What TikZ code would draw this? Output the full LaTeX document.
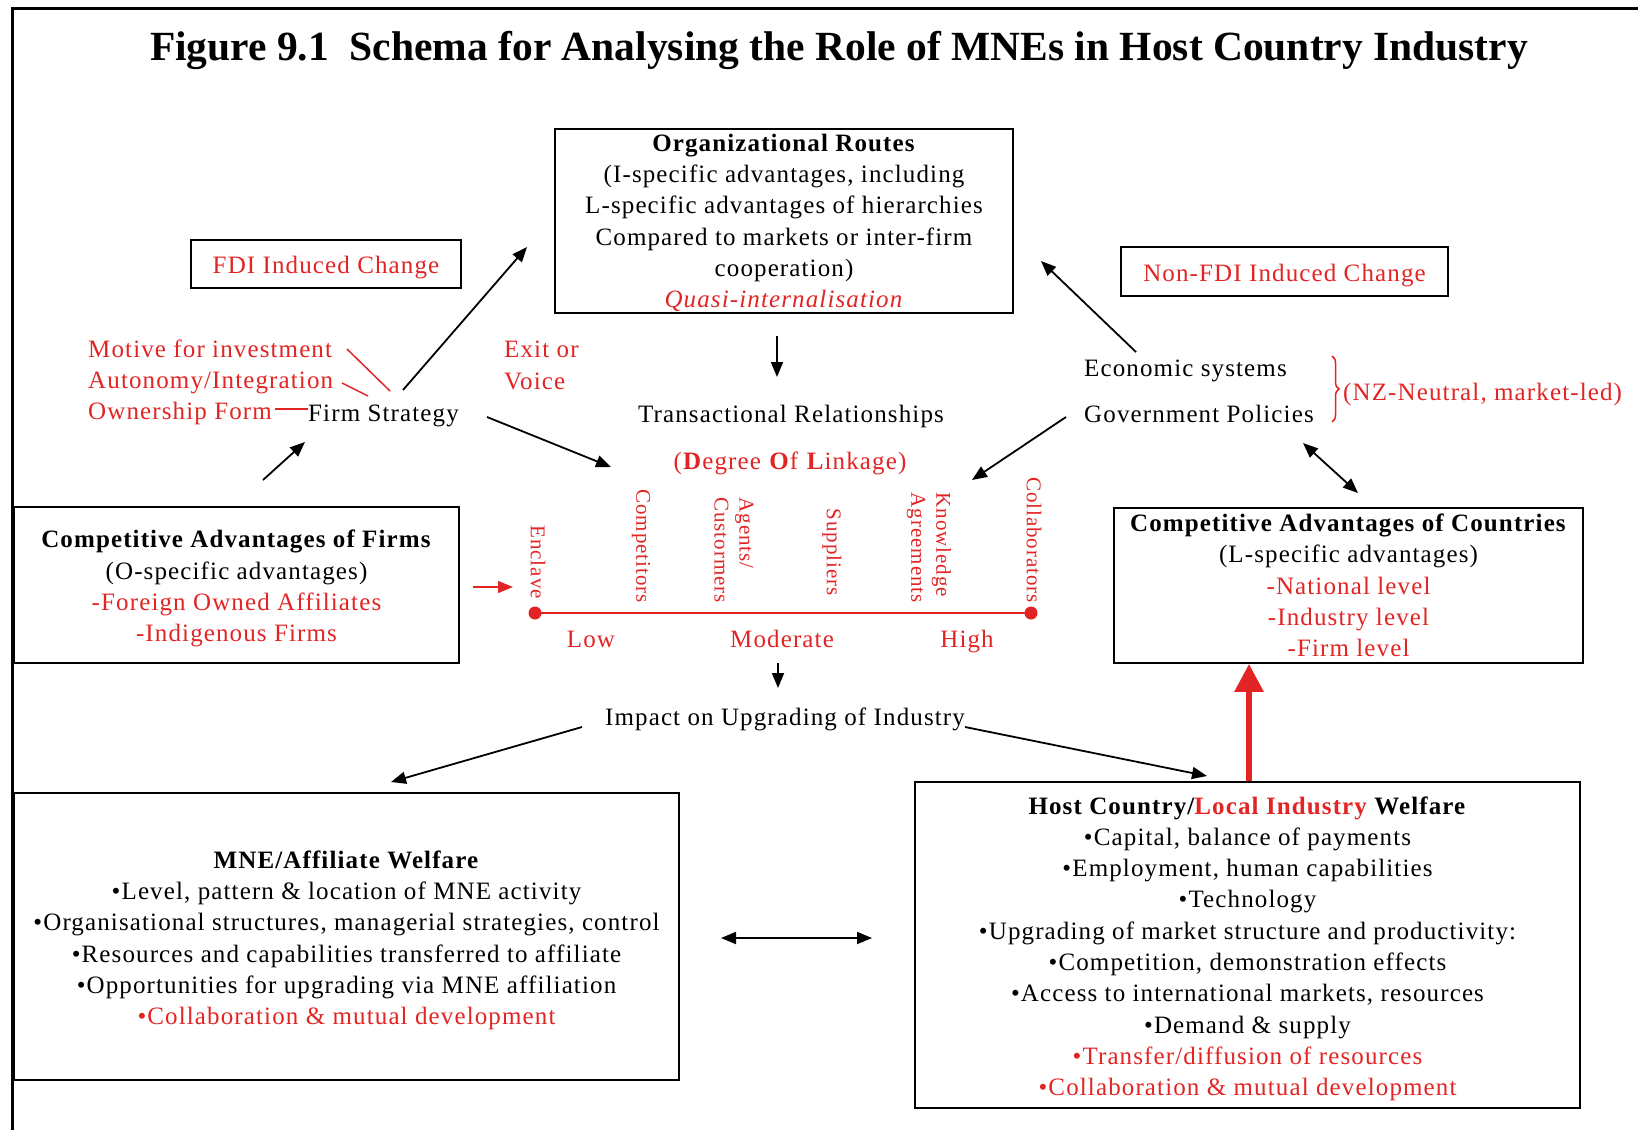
\documentclass[tikz,border=0pt]{standalone}
\usepackage{fontspec}
\setmainfont{Liberation Serif}[LetterSpace=4.5]
\newfontfamily\headfont{Liberation Serif}
\usetikzlibrary{arrows.meta,decorations.pathreplacing}
\definecolor{mnered}{RGB}{226,36,36}
\newcommand{\hl}[1]{\textcolor{mnered}{#1}}
\newcommand{\topstrut}{\rule{0pt}{25pt}}

\begin{document}
\begin{tikzpicture}[x=1pt, y=-1pt,
    every node/.style={font=\fontsize{25}{31.3}\selectfont, inner sep=0pt},
    box/.style={draw, line width=1.8pt, align=center},
    note/.style={text=mnered},
    linktag/.style={text=mnered, rotate=-90, anchor=east, align=left, font=\fontsize{21}{25}\selectfont},
    arr/.style={-{Triangle[length=15pt,width=12pt]}, line width=1.8pt},
    darr/.style={{Triangle[length=15pt,width=12pt]}-{Triangle[length=15pt,width=12pt]}, line width=1.8pt},
    tie/.style={mnered, line width=1.5pt}]
  \useasboundingbox (0,0) rectangle (1638,1130);
  \draw[line width=3pt] (12,1130) -- (12,8) -- (1638,8);% frame
  \node[font=\headfont\bfseries\fontsize{41.5}{48}\selectfont, anchor=base] (title) at (839,60)
    {Figure 9.1\ \ Schema for Analysing the Role of MNEs in Host Country Industry};

  % boxes
  \node[box, minimum width=458, minimum height=184] (org) at (784,221)
    {\rule{0pt}{21pt}\textbf{Organizational Routes}\\(I-specific advantages, including\\L-specific advantages of hierarchies\\Compared to markets or inter-firm\\cooperation)\\\hl{\textit{Quasi-internalisation}}};
  \node[box, note, minimum width=270, minimum height=48] (fdi) at (326,264) {\topstrut FDI Induced Change};
  \node[box, note, minimum width=327, minimum height=49] (nonfdi) at (1284.5,271.5) {\topstrut Non-FDI Induced Change};
  \node[box, minimum width=445, minimum height=156] (caf) at (236.5,585)
    {\topstrut\textbf{Competitive Advantages of Firms}\\(O-specific advantages)\\\hl{-Foreign Owned Affiliates}\\\hl{-Indigenous Firms}};
  \node[box, minimum width=469, minimum height=155] (cac) at (1348.5,585.5)
    {\textbf{Competitive Advantages of Countries}\\(L-specific advantages)\\\hl{-National level}\\\hl{-Industry level}\\\hl{-Firm level}};
  \node[box, minimum width=665, minimum height=287] (mne) at (346.5,936.5)
    {\topstrut\textbf{MNE/Affiliate Welfare}\\•Level, pattern \& location of MNE activity\\•Organisational structures, managerial strategies, control\\•Resources and capabilities transferred to affiliate\\•Opportunities for upgrading via MNE affiliation\\\hl{•Collaboration \& mutual development}};
  \node[box, minimum width=665, minimum height=326] (host) at (1247.5,945)
    {\topstrut\textbf{Host Country/\hl{Local Industry} Welfare}\\•Capital, balance of payments\\•Employment, human capabilities\\•Technology\\•Upgrading of market structure and productivity:\\•Competition, demonstration effects\\•Access to international markets, resources\\•Demand \& supply\\\hl{•Transfer/diffusion of resources}\\\hl{•Collaboration \& mutual development}};

  % firm side
  \node[note, anchor=base west] (motive) at (88,357) {Motive for investment};
  \node[note, anchor=base west] (auto) at (88,388) {Autonomy/Integration};
  \node[note, anchor=base west] (own) at (88,419) {Ownership Form};
  \node[anchor=base west] (fs) at (308,421) {Firm Strategy};
  \node[note, anchor=north west, align=left] (exit) at (504,341) {Exit or\\Voice};
  \draw[tie] (347,349) -- (390,391);
  \draw[tie] (342,383) -- (368,396);
  \draw[tie] (own.east) ++(3,-4) coordinate (ownend) -- (fs.west |- ownend);

  % country side
  \node[anchor=base west] (econ) at (1084,376) {Economic systems};
  \node[anchor=base west] (gov) at (1084,422) {Government Policies};
  \draw[mnered, line width=1.5pt, decorate, decoration={brace, amplitude=7pt}] (1332,356) -- (1332,422);
  \node[note, anchor=base west] (nz) at (1343,400) {(NZ-Neutral, market-led)};

  % linkage scale
  \node[anchor=base] (trans) at (791,422) {Transactional Relationships};
  \node[note, anchor=base] (degree) at (790,469) {(\textbf{D}egree \textbf{O}f \textbf{L}inkage)};
  \coordinate (lo) at (535,613);
  \coordinate (hi) at (1031,613);
  \draw[mnered, line width=2pt] (lo) -- (hi);
  \fill[mnered] (lo) circle (6.5) (hi) circle (6.5);
  \node[linktag] (enclave) at (538,599) {Enclave};
  \node[linktag] (compet) at (641,603) {Competitors};
  \node[linktag] (agents) at (734,603) {Agents/\\Custormers};
  \node[linktag] (suppl) at (832,596) {Suppliers};
  \node[linktag] (know) at (929,603) {Knowledge\\Agreements};
  \node[linktag] (collab) at (1034,603) {Collaborators};
  \node[note, anchor=base] (low) at (591,647) {Low};
  \node[note, anchor=base] (mod) at (782,647) {Moderate};
  \node[note, anchor=base] (high) at (967,647) {High};
  \node[anchor=base] (impact) at (785,725) {Impact on Upgrading of Industry};

  % arrows
  \coordinate (a1) at (403,390);  \coordinate (b1) at (527,247);
  \coordinate (a2) at (263,480);  \coordinate (b2) at (305,442);
  \coordinate (a3) at (487,417);  \coordinate (b3) at (611,467);
  \coordinate (a4) at (777,336);  \coordinate (b4) at (777,377);
  \coordinate (a5) at (1136,352); \coordinate (b5) at (1041,261);
  \coordinate (a6) at (1066,417); \coordinate (b6) at (972,480);
  \coordinate (a7) at (1303,443); \coordinate (b7) at (1358,493);
  \coordinate (a8) at (473,587);  \coordinate (b8) at (513,587);
  \coordinate (a9) at (778,663);  \coordinate (b9) at (778,688);
  \coordinate (a10) at (582,727); \coordinate (b10) at (391,782);
  \coordinate (a11) at (impact.base east); \coordinate (b11) at (1207,776);
  \coordinate (a12) at (721,938); \coordinate (b12) at (872,938);
  \draw[arr] (a1) -- (b1);
  \draw[arr] (a2) -- (b2);
  \draw[arr] (a3) -- (b3);
  \draw[arr] (a4) -- (b4);
  \draw[arr] (a5) -- (b5);
  \draw[arr] (a6) -- (b6);
  \draw[darr] (a7) -- (b7);
  \draw[arr, mnered, line width=1.5pt] (a8) -- (b8);
  \draw[arr] (a9) -- (b9);
  \draw[arr] (a10) -- (b10);
  \draw[arr] ([yshift=-2]a11) -- (b11);
  \draw[darr] (a12) -- (b12);
  \draw[-{Triangle[length=28pt,width=28pt]}, mnered, line width=6pt] (host.north -| 1249,0) -- (cac.south -| 1249,0);% thick
\end{tikzpicture}
\end{document}
